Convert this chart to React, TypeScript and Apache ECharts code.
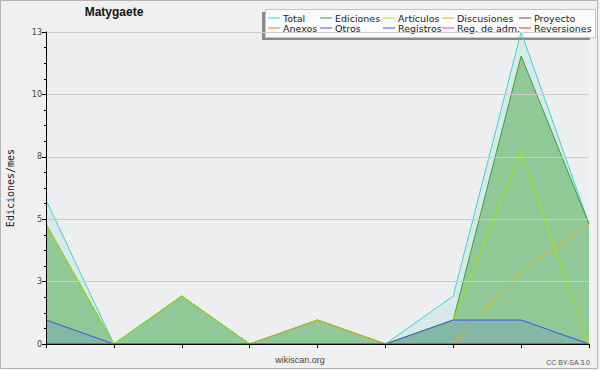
import React, { useEffect, useRef } from "react";
import * as echarts from "echarts";

const categories = ["1", "2", "3", "4", "5", "6", "7", "8", "9"];
const totalValues = [6, 0, 2, 0, 1, 0, 2, 13, 5];
const edicionesValues = [5, 0, 2, 0, 1, 0, 1, 12, 5];
const articulosValues = [5, 0, 2, 0, 0, 0, 1, 8, 0];
const discusionesValues = [0, 0, 0, 0, 1, 0, 0, 3, 5];
const registrosValues = [1, 0, 0, 0, 0, 0, 1, 1, 0];
const proyectoValues = [0, 0, 0, 0, 0, 0, 0, 0, 0];
const anexosValues = [0, 0, 0, 0, 0, 0, 0, 0, 0];
const otrosValues = [0, 0, 0, 0, 0, 0, 0, 0, 0];
const regAdmValues = [0, 0, 0, 0, 0, 0, 0, 0, 0];
const reversionesValues = [0, 0, 0, 0, 0, 0, 0, 0, 0];
const yTickLabels = ["0", "3", "5", "8", "10", "13"];

const title = "Matygaete";
const yName = "Ediciones/mes";

export default function App() {
  const ref = useRef<HTMLDivElement>(null);
  useEffect(() => {
    if (!ref.current) return;
    const chart = echarts.init(ref.current, null, { renderer: "svg" });
    const line = (name: string, data: number[], color: string, area?: { color: string; opacity: number }) => ({
      name,
      type: "line",
      data,
      color,
      showSymbol: false,
      symbol: "none",
      lineStyle: { color, width: 1 },
      itemStyle: { color },
      areaStyle: area ? { color: area.color, opacity: area.opacity } : undefined,
    });
    const legendCol = (data: string[], left: number) => ({
      show: true,
      orient: "vertical",
      left,
      top: 13,
      padding: 0,
      itemGap: 0,
      itemWidth: 12,
      itemHeight: 1,
      icon: "rect",
      data,
      textStyle: { fontFamily: "DejaVu Sans", fontSize: 9.5, lineHeight: 10, color: "#222", padding: [0, 0, 0, -2] },
    });
    chart.setOption({
      animation: false,
      backgroundColor: "#f0f0f0",
      title: {
        text: title,
        left: 114,
        top: 6,
        textAlign: "center",
        padding: 0,
        textStyle: { fontFamily: "Liberation Sans", fontWeight: "bold", fontSize: 12, color: "#111" },
      },
      legend: [
        legendCol(["Total", "Anexos"], 268),
        legendCol(["Ediciones", "Otros"], 320),
        legendCol(["Artículos", "Registros"], 383),
        legendCol(["Discusiones", "Reg. de adm."], 442),
        legendCol(["Proyecto", "Reversiones"], 519),
      ],
      grid: {
        left: 46,
        right: 11,
        top: 32,
        bottom: 26,
        show: true,
        containLabel: false,
        outerBoundsMode: "none",
        backgroundColor: "#eceef0",
        borderWidth: 0,
      },
      xAxis: {
        type: "category",
        data: categories,
        boundaryGap: false,
        z: 5,
        axisLine: { show: true, lineStyle: { color: "#000", width: 1 } },
        axisTick: { show: true, length: 4, interval: 0, lineStyle: { color: "#000", width: 1 } },
        axisLabel: { show: false },
        splitLine: { show: false },
      },
      yAxis: {
        type: "value",
        min: 0,
        max: 13,
        interval: 2.6,
        z: 5,
        name: yName,
        nameLocation: "middle",
        nameGap: 31,
        nameRotate: 90,
        nameTextStyle: { fontFamily: "DejaVu Sans Mono", fontSize: 10, color: "#222" },
        axisLine: { show: true, lineStyle: { color: "#000", width: 1 } },
        axisTick: { show: true, length: 4, lineStyle: { color: "#000", width: 1 } },
        minorTick: { show: true, splitNumber: 4, length: 2, lineStyle: { color: "#000", width: 1 } },
        axisLabel: {
          margin: 4,
          fontFamily: "DejaVu Sans",
          fontSize: 8,
          color: "#444",
          formatter: (v: number) => {
            const i = Math.round(v / 2.6);
            return yTickLabels[i] ?? String(Math.round(v));
          },
        },
        splitLine: { show: true, lineStyle: { color: "#cdcdcd", width: 1 } },
      },
      series: [
        line("Total", totalValues, "#3ed2cc", { color: "#40d0c0", opacity: 0.12 }),
        line("Ediciones", edicionesValues, "#3a9e3a", { color: "#64b464", opacity: 0.62 }),
        line("Artículos", articulosValues, "#a6e600"),
        line("Discusiones", discusionesValues, "#e2b418"),
        line("Registros", registrosValues, "#3c50f0", { color: "#4050f0", opacity: 0.15 }),
        line("Proyecto", proyectoValues, "#555555"),
        line("Anexos", anexosValues, "#f07a30"),
        line("Otros", otrosValues, "#7a3ae0"),
        line("Reg. de adm.", regAdmValues, "#d050f0"),
        line("Reversiones", reversionesValues, "#f03030"),
      ],
      graphic: [
        { type: "rect", z: 1, shape: { x: 262, y: 12, width: 328, height: 28 }, style: { fill: "#8a8a8a" } },
        { type: "rect", z: 1, shape: { x: 265.5, y: 9.5, width: 330, height: 28 }, style: { fill: "#fbfbfb", stroke: "#c4c4c4", lineWidth: 1 } },
        { type: "rect", z: 0, silent: true, shape: { x: 0.5, y: 0.5, width: 597, height: 368 }, style: { fill: "none", stroke: "#b4b4b4", lineWidth: 1 } },
        { type: "text", z: 3, x: 300, y: 360, style: { text: "wikiscan.org", fontFamily: "Liberation Sans", fontSize: 9, fill: "#444", textAlign: "center", textVerticalAlign: "middle" } },
        { type: "text", z: 3, x: 590, y: 362, style: { text: "CC BY-SA 3.0", fontFamily: "Liberation Sans", fontSize: 7, fill: "#555", textAlign: "right", textVerticalAlign: "middle" } },
      ],
    });
    return () => chart.dispose();
  }, []);
  return <div ref={ref} style={{ position: "absolute", left: 0, top: 0, width: 600, height: 370 }} />;
}
